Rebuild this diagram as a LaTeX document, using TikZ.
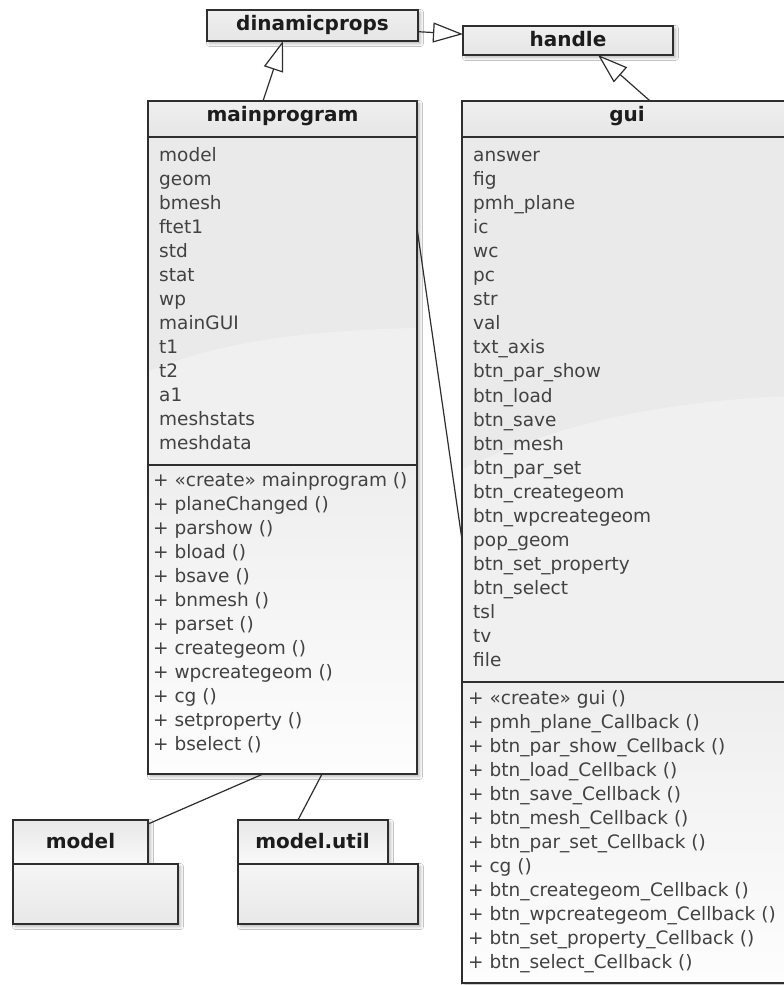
\documentclass[tikz,border=0pt]{standalone}
\usepackage{fontspec}
\setmainfont{DejaVu Sans}
\usetikzlibrary{arrows.meta,shadows,shadows.blur,calc}

\definecolor{edge}{HTML}{2E2E2E}
\definecolor{txt}{HTML}{424242}
\definecolor{ttl}{HTML}{1C1C1C}
\definecolor{headtop}{HTML}{EFEFEF}
\definecolor{headbot}{HTML}{E6E6E6}
\definecolor{attrfill}{HTML}{EAEAEA}
\definecolor{methtop}{HTML}{EEEEEE}
\definecolor{methbot}{HTML}{FDFDFD}
\definecolor{tabtop}{HTML}{E8E8E8}
\definecolor{tabbot}{HTML}{F9F9F9}
\definecolor{pkgtop}{HTML}{F5F5F5}
\definecolor{pkgbot}{HTML}{E8E8E8}

\tikzset{
  boxshadow/.style={blur shadow={shadow xshift=2.5pt, shadow yshift=-2.5pt,
      shadow blur steps=6, shadow blur radius=3pt, shadow opacity=30}},
  frame/.style={draw=edge, line width=1.4pt},
  umlbox/.style={fill=white, boxshadow, inner sep=0pt, outer sep=0pt,
      anchor=north west, draw=none},
  ttltext/.style={anchor=base, inner sep=0pt, text=ttl,
      font=\bfseries\fontsize{20}{24}\selectfont},
  linetext/.style={anchor=base west, inner sep=0pt, text=txt,
      font=\fontsize{18.5}{22}\selectfont},
  conn/.style={draw=edge, line width=1.2pt},
  gen/.style={conn, -{Triangle[length=30pt, width=20pt, fill=white, line width=1.2pt]}},
  swoosh/.style={fill=white, opacity=0.32},
}

\begin{document}
\begin{tikzpicture}[x=1pt, y=-1pt]
\useasboundingbox (0,0) rectangle (784,985);
\fill[white] (0,0) rectangle (784,985);

% ---------- dinamicprops ----------
\node[umlbox, minimum width=211pt, minimum height=31pt] (dp) at (207,10) {};
\shade[top color=headtop, bottom color=headbot] (dp.north west) rectangle (dp.south east);
\draw[frame] (dp.north west) rectangle (dp.south east);
\node[ttltext] (dpname) at (312.5,30) {dinamicprops};

% ---------- handle ----------
\node[umlbox, minimum width=210pt, minimum height=29pt] (hd) at (463,26) {};
\shade[top color=headtop, bottom color=headbot] (hd.north west) rectangle (hd.south east);
\draw[frame] (hd.north west) rectangle (hd.south east);
\node[ttltext] (hdname) at (568,46) {handle};

% ---------- mainprogram ----------
\node[umlbox, minimum width=269pt, minimum height=673pt] (mp) at (148,101) {};
\shade[top color=headtop, bottom color=headbot] (148,101) rectangle (417,137);
\fill[attrfill] (148,137) rectangle (417,465);
\fill[swoosh] (148,372) .. controls (220,340) and (320,330) .. (417,328)
  -- (417,465) -- (148,465) -- cycle;
\shade[top color=methtop, bottom color=methbot] (148,465) rectangle (417,774);
\draw[frame] (mp.north west) rectangle (mp.south east);
\draw[frame] (148,137) -- (417,137);
\draw[frame] (148,465) -- (417,465);
\node[ttltext] (mpname) at (282.5,121) {mainprogram};
\foreach \t [count=\i] in {model, geom, bmesh, ftet1, std, stat, wp, mainGUI,
    t1, t2, a1, meshstats, meshdata}
  \node[linetext] (mpa\i) at (159,{161.5+24*(\i-1)}) {\t};
\foreach \t [count=\i] in {+ «create» mainprogram (), + planeChanged (),
    + parshow (), + bload (), + bsave (), + bnmesh (), + parset (),
    + creategeom (), + wpcreategeom (), + cg (), + setproperty (), + bselect ()}
  \node[linetext] (mpm\i) at (153,{486.5+24*(\i-1)}) {\t};

% ---------- gui ----------
\node[umlbox, minimum width=330pt, minimum height=882pt] (gui) at (462,101) {};
\shade[top color=headtop, bottom color=headbot] (462,101) rectangle (792,137);
\fill[attrfill] (462,137) rectangle (792,682);
\fill[swoosh] (462,470) .. controls (560,420) and (680,400) .. (792,396)
  -- (792,682) -- (462,682) -- cycle;
\shade[top color=methtop, bottom color=methbot] (462,682) rectangle (792,983);
\draw[frame] (gui.north west) rectangle (gui.south east);
\draw[frame] (462,137) -- (792,137);
\draw[frame] (462,682) -- (792,682);
\node[ttltext] (guiname) at (627,121) {gui};
\foreach \t [count=\i] in {answer, fig, pmh\_plane, ic, wc, pc, str, val,
    txt\_axis, btn\_par\_show, btn\_load, btn\_save, btn\_mesh, btn\_par\_set,
    btn\_creategeom, btn\_wpcreategeom, pop\_geom, btn\_set\_property,
    btn\_select, tsl, tv, file}
  \node[linetext] (guia\i) at (473,{161.5+24.05*(\i-1)}) {\t};
\foreach \t [count=\i] in {+ «create» gui (), + pmh\_plane\_Callback (),
    + btn\_par\_show\_Cellback (), + btn\_load\_Cellback (),
    + btn\_save\_Cellback (), + btn\_mesh\_Cellback (),
    + btn\_par\_set\_Cellback (), + cg (), + btn\_creategeom\_Cellback (),
    + btn\_wpcreategeom\_Cellback (), + btn\_set\_property\_Cellback (),
    + btn\_select\_Cellback ()}
  \node[linetext] (guim\i) at (468,{704+24*(\i-1)}) {\t};

% ---------- package model ----------
\node[umlbox, minimum width=135pt, minimum height=44pt] (mtab) at (13,820) {};
\shade[top color=tabtop, bottom color=tabbot] (mtab.north west) rectangle (mtab.south east);
\draw[frame] (mtab.north west) rectangle (mtab.south east);
\node[umlbox, minimum width=165pt, minimum height=60pt] (mbody) at (13,864) {};
\shade[top color=pkgtop, bottom color=pkgbot] (mbody.north west) rectangle (mbody.south east);
\draw[frame] (mbody.north west) rectangle (mbody.south east);
\node[ttltext] (mname) at (80.5,848) {model};

% ---------- package model.util ----------
\node[umlbox, minimum width=150pt, minimum height=44pt] (utab) at (238,820) {};
\shade[top color=tabtop, bottom color=tabbot] (utab.north west) rectangle (utab.south east);
\draw[frame] (utab.north west) rectangle (utab.south east);
\node[umlbox, minimum width=180pt, minimum height=60pt] (ubody) at (238,864) {};
\shade[top color=pkgtop, bottom color=pkgbot] (ubody.north west) rectangle (ubody.south east);
\draw[frame] (ubody.north west) rectangle (ubody.south east);
\node[ttltext] (uname) at (312.5,848) {model.util};

% ---------- relations ----------
\draw[gen] ($(mp.north west)!0.4275!(mp.north east)$) -- ($(dp.south west)!0.36!(dp.south east)$);
\draw[gen] ($(gui.north west)!0.57!(gui.north east)$) -- ($(hd.south west)!0.643!(hd.south east)$);
\draw[gen] ($(dp.north east)!0.7!(dp.south east)$) -- ($(hd.north west)!0.28!(hd.south west)$);
\draw[conn] ($(mp.north east)!0.1887!(mp.south east)$) -- ($(gui.north west)!0.4977!(gui.south west)$);
\draw[conn] ($(mp.south west)!0.4275!(mp.south east)$) -- ($(mtab.north east)+(0,4)$);
\draw[conn] ($(mp.south west)!0.647!(mp.south east)$) -- ($(utab.north west)!0.4!(utab.north east)$);
\end{tikzpicture}
\end{document}
